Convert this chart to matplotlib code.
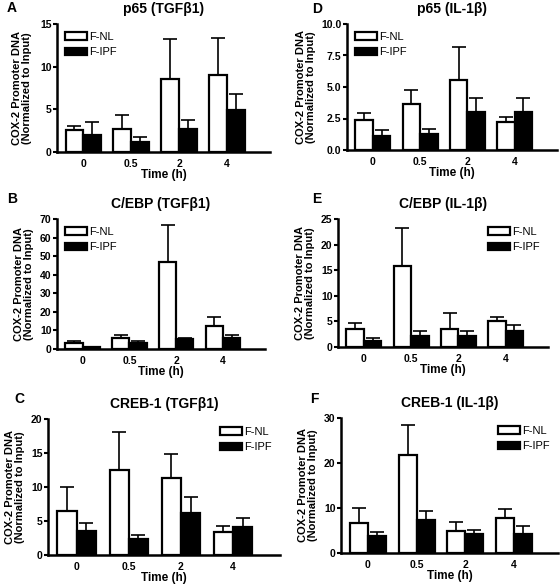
import numpy as np
import matplotlib.pyplot as plt

plt.rcParams['font.family'] = ['Liberation Sans', 'DejaVu Sans']

times = ['0', '0.5', '2', '4']

# panel data: NL mean, NL sem, IPF mean, IPF sem
a_nl = [2.6, 2.7, 8.5, 9.0]
a_nl_err = [0.5, 1.6, 4.8, 4.4]
a_ipf = [2.0, 1.2, 2.7, 4.9]
a_ipf_err = [1.5, 0.6, 1.0, 1.9]

b_nl = [3.5, 5.8, 47.0, 12.5]
b_nl_err = [1.0, 1.7, 20.0, 5.0]
b_ipf = [1.0, 3.5, 5.3, 5.9]
b_ipf_err = [0.3, 1.0, 0.8, 1.6]

c_nl = [6.5, 12.5, 11.3, 3.4]
c_nl_err = [3.5, 5.6, 3.5, 0.8]
c_ipf = [3.6, 2.4, 6.2, 4.1]
c_ipf_err = [1.1, 0.6, 2.3, 1.4]

d_nl = [2.35, 3.65, 5.55, 2.25]
d_nl_err = [0.6, 1.15, 2.65, 0.35]
d_ipf = [1.1, 1.25, 3.0, 3.0]
d_ipf_err = [0.5, 0.45, 1.15, 1.15]

e_nl = [3.6, 15.9, 3.6, 5.0]
e_nl_err = [1.1, 7.4, 3.1, 0.8]
e_ipf = [1.2, 2.1, 2.1, 3.2]
e_ipf_err = [0.6, 1.0, 1.0, 1.1]

f_nl = [6.6, 21.8, 5.0, 7.8]
f_nl_err = [3.4, 6.6, 2.0, 1.9]
f_ipf = [3.8, 7.4, 4.3, 4.3]
f_ipf_err = [0.9, 1.9, 0.9, 1.6]

fig = plt.figure(figsize=(5.6, 5.84), dpi=100)

W, H = 560.0, 584.0


def make_axes(left, right, top, bottom):
    return fig.add_axes([left / W, 1 - bottom / H, (right - left) / W, (bottom - top) / H])


def panel(ax, nl, nl_err, ipf, ipf_err, title, yticks, yticklabels, legloc, ylabpad):
    x = np.arange(len(times))
    w = 0.37
    lw = 1.6
    ax.bar(x - w / 2, nl, w, color='white', edgecolor='black', linewidth=lw, label='F-NL', zorder=2)
    ax.bar(x + w / 2, ipf, w, color='black', edgecolor='black', linewidth=lw, label='F-IPF', zorder=2)
    ax.errorbar(x - w / 2, nl, yerr=[np.zeros(4), nl_err], fmt='none', ecolor='black',
                elinewidth=1.2, capsize=5, capthick=1.2, zorder=1)
    ax.errorbar(x + w / 2, ipf, yerr=[np.zeros(4), ipf_err], fmt='none', ecolor='black',
                elinewidth=1.2, capsize=5, capthick=1.2, zorder=1)
    ax.set_xlim(-0.55, 3.9)
    ax.set_ylim(yticks[0], yticks[-1])
    ax.set_yticks(yticks)
    ax.set_yticklabels(yticklabels, fontsize=7.5, fontweight='bold')
    ax.set_xticks(x)
    ax.set_xticklabels(times, fontsize=7.5, fontweight='bold')
    ax.tick_params(axis='x', length=0, pad=5)
    ax.tick_params(axis='y', length=3, width=1.5, pad=1)
    for s in ['top', 'right']:
        ax.spines[s].set_visible(False)
    for s in ['left', 'bottom']:
        ax.spines[s].set_linewidth(1.8)
    ax.set_xlabel('Time (h)', fontsize=8.5, fontweight='bold', labelpad=0)
    ax.set_ylabel('COX-2 Promoter DNA\n(Normalized to Input)', fontsize=8,
                  fontweight='bold', labelpad=ylabpad, linespacing=1.0)
    ax.set_title(title, fontsize=10, fontweight='bold', pad=8)
    ax.legend(loc=legloc, frameon=False, fontsize=8, handlelength=2.0, handleheight=0.7,
              handletextpad=0.2, labelspacing=0.5, borderaxespad=0.3)


def letter(px, py, s):
    fig.text(px / W, 1 - py / H, s, fontsize=10, fontweight='bold', ha='left', va='top')


axA = make_axes(57, 270, 24, 152)
panel(axA, a_nl, a_nl_err, a_ipf, a_ipf_err, 'p65 (TGF\u03b21)',
      [0, 5, 10, 15], ['0', '5', '10', '15'], 'upper left', 6)
letter(7, 1, 'A')

axD = make_axes(347, 557, 24, 150)
panel(axD, d_nl, d_nl_err, d_ipf, d_ipf_err, 'p65 (IL-1\u03b2)',
      [0, 2.5, 5, 7.5, 10], ['0.0', '2.5', '5.0', '7.5', '10.0'], 'upper left', 4)
letter(312, 2, 'D')

axB = make_axes(57, 265, 219, 349)
panel(axB, b_nl, b_nl_err, b_ipf, b_ipf_err, 'C/EBP (TGF\u03b21)',
      list(range(0, 71, 10)), [str(v) for v in range(0, 71, 10)], 'upper left', 4)
letter(7, 192, 'B')

axE = make_axes(338, 548, 219, 347)
panel(axE, e_nl, e_nl_err, e_ipf, e_ipf_err, 'C/EBP (IL-1\u03b2)',
      list(range(0, 26, 5)), [str(v) for v in range(0, 26, 5)], 'upper right', 4)
letter(312, 192, 'E')

axC = make_axes(48, 280, 419, 555)
panel(axC, c_nl, c_nl_err, c_ipf, c_ipf_err, 'CREB-1 (TGF\u03b21)',
      list(range(0, 21, 5)), [str(v) for v in range(0, 21, 5)], 'upper right', 4)
letter(14, 392, 'C')

axF = make_axes(341, 558, 418, 553)
panel(axF, f_nl, f_nl_err, f_ipf, f_ipf_err, 'CREB-1 (IL-1\u03b2)',
      [0, 10, 20, 30], ['0', '10', '20', '30'], 'upper right', 4)
letter(310, 392, 'F')

fig.savefig('out.png', dpi=100)
